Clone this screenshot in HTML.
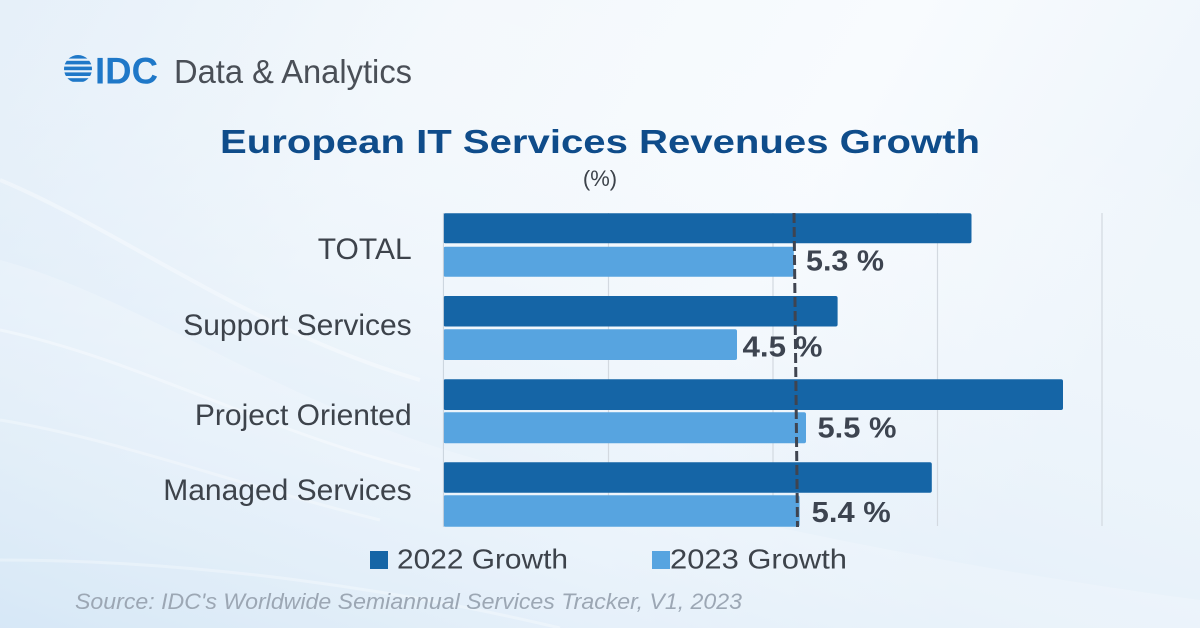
<!DOCTYPE html>
<html>
<head>
<meta charset="utf-8">
<style>
html,body{margin:0;padding:0;width:1200px;height:628px;overflow:hidden;}
svg{display:block;}
</style>
</head>
<body>
<svg width="1200" height="628" viewBox="0 0 1200 628" xmlns="http://www.w3.org/2000/svg">
<defs>
<linearGradient id="bg" x1="0" y1="0" x2="1" y2="0.3">
<stop offset="0" stop-color="#e3eef8"/>
<stop offset="0.35" stop-color="#f3f8fc"/>
<stop offset="0.7" stop-color="#f8fbfe"/>
<stop offset="1" stop-color="#eef5fb"/>
</linearGradient>
<linearGradient id="bl" x1="0" y1="1" x2="0.6" y2="0">
<stop offset="0" stop-color="#c9e0f4" stop-opacity="0.9"/>
<stop offset="0.5" stop-color="#e2eef9" stop-opacity="0.4"/>
<stop offset="1" stop-color="#ffffff" stop-opacity="0"/>
</linearGradient>
</defs>
<rect width="1200" height="628" fill="url(#bg)"/>
<rect width="1200" height="628" fill="url(#bl)"/>
<!-- swooshes -->
<path d="M0 260 C150 300 300 420 520 470 C700 510 900 560 1200 600 L1200 628 L0 628 Z" fill="#ffffff" opacity="0.2"/>
<path d="M0 180 C120 230 250 330 420 380" stroke="#ffffff" stroke-width="4" fill="none" opacity="0.35"/>
<path d="M0 330 C140 360 260 430 420 470" stroke="#ffffff" stroke-width="3" fill="none" opacity="0.35"/>
<path d="M0 420 C120 440 220 480 380 520" stroke="#ffffff" stroke-width="3" fill="none" opacity="0.3"/>
<path d="M0 560 C200 560 400 590 560 628" stroke="#ffffff" stroke-width="3" fill="none" opacity="0.3"/>

<!-- logo -->
<g fill="#1f78c8">
<clipPath id="gc"><circle cx="78" cy="69" r="14"/></clipPath>
<g clip-path="url(#gc)">
<rect x="62" y="55" width="32" height="3.6"/>
<rect x="62" y="60.8" width="32" height="3.6"/>
<rect x="62" y="66.6" width="32" height="3.6"/>
<rect x="62" y="72.4" width="32" height="3.6"/>
<rect x="62" y="78.2" width="32" height="3.6"/>
</g>
</g>
<text x="95" y="83.3" font-family="Liberation Sans, sans-serif" font-size="37" font-weight="bold" fill="#1f78c8" textLength="63" lengthAdjust="spacingAndGlyphs">IDC</text>
<text x="174" y="83" font-family="Liberation Sans, sans-serif" font-size="33" fill="#4a4f57" textLength="238" lengthAdjust="spacingAndGlyphs">Data &amp; Analytics</text>

<!-- title -->
<text x="220" y="153" font-family="Liberation Sans, sans-serif" font-size="33" font-weight="bold" fill="#0f4c8a" textLength="760" lengthAdjust="spacingAndGlyphs">European IT Services Revenues Growth</text>
<text x="600" y="186" text-anchor="middle" font-family="Liberation Sans, sans-serif" font-size="22" fill="#3d434b">(%)</text>

<!-- gridlines -->
<g stroke="#d3d9e0" stroke-width="1.2">
<line x1="608.5" y1="213" x2="608.5" y2="526"/>
<line x1="773" y1="213" x2="773" y2="526"/>
<line x1="937.5" y1="213" x2="937.5" y2="526"/>
<line x1="1102" y1="213" x2="1102" y2="526"/>
</g>

<!-- bars -->
<g fill="#1565a6">
<rect x="443.4" y="213.3" width="528.1" height="30" rx="2"/>
<rect x="443.4" y="296" width="394.2" height="30.5" rx="2"/>
<rect x="443.4" y="379.3" width="619.6" height="30.7" rx="2"/>
<rect x="443.4" y="462.3" width="488.4" height="30.4" rx="2"/>
</g>
<g fill="#57a4e0">
<rect x="443.4" y="246.7" width="350.4" height="30" rx="2"/>
<rect x="443.4" y="329.3" width="293.6" height="30.7" rx="2"/>
<rect x="443.4" y="412.3" width="362.6" height="31" rx="2"/>
<rect x="443.4" y="495.3" width="356.2" height="31.4" rx="2"/>
</g>
<line x1="443.4" y1="213" x2="443.4" y2="527" stroke="#c9d2dc" stroke-width="1"/>

<!-- dashed average line -->
<line x1="794" y1="213" x2="797.5" y2="527" stroke="#3f4450" stroke-width="3" stroke-dasharray="10 4"/>

<!-- category labels -->
<g font-family="Liberation Sans, sans-serif" font-size="30" fill="#3d434b" text-anchor="end">
<text x="411.7" y="259">TOTAL</text>
<text x="411.7" y="335">Support Services</text>
<text x="411.7" y="425">Project Oriented</text>
<text x="411.7" y="500">Managed Services</text>
</g>

<!-- value labels -->
<g font-family="Liberation Sans, sans-serif" font-size="29" font-weight="bold" fill="#3d4450">
<text x="806" y="270.7" textLength="78" lengthAdjust="spacingAndGlyphs">5.3 %</text>
<text x="742.5" y="356.7" textLength="80" lengthAdjust="spacingAndGlyphs">4.5 %</text>
<text x="817.5" y="437.3" textLength="79" lengthAdjust="spacingAndGlyphs">5.5 %</text>
<text x="811.7" y="522" textLength="79" lengthAdjust="spacingAndGlyphs">5.4 %</text>
</g>

<!-- legend -->
<rect x="370" y="551" width="18" height="18" fill="#1565a6"/>
<text x="397" y="568.3" font-family="Liberation Sans, sans-serif" font-size="28" fill="#3d434b" textLength="171" lengthAdjust="spacingAndGlyphs">2022 Growth</text>
<rect x="652" y="551" width="18" height="18" fill="#57a4e0"/>
<text x="670" y="568.3" font-family="Liberation Sans, sans-serif" font-size="28" fill="#3d434b" textLength="177" lengthAdjust="spacingAndGlyphs">2023 Growth</text>

<!-- source -->
<text x="75" y="609" font-family="Liberation Sans, sans-serif" font-size="22" font-style="italic" fill="#9ca7b4" textLength="667" lengthAdjust="spacingAndGlyphs">Source: IDC's Worldwide Semiannual Services Tracker, V1, 2023</text>
</svg>
</body>
</html>
